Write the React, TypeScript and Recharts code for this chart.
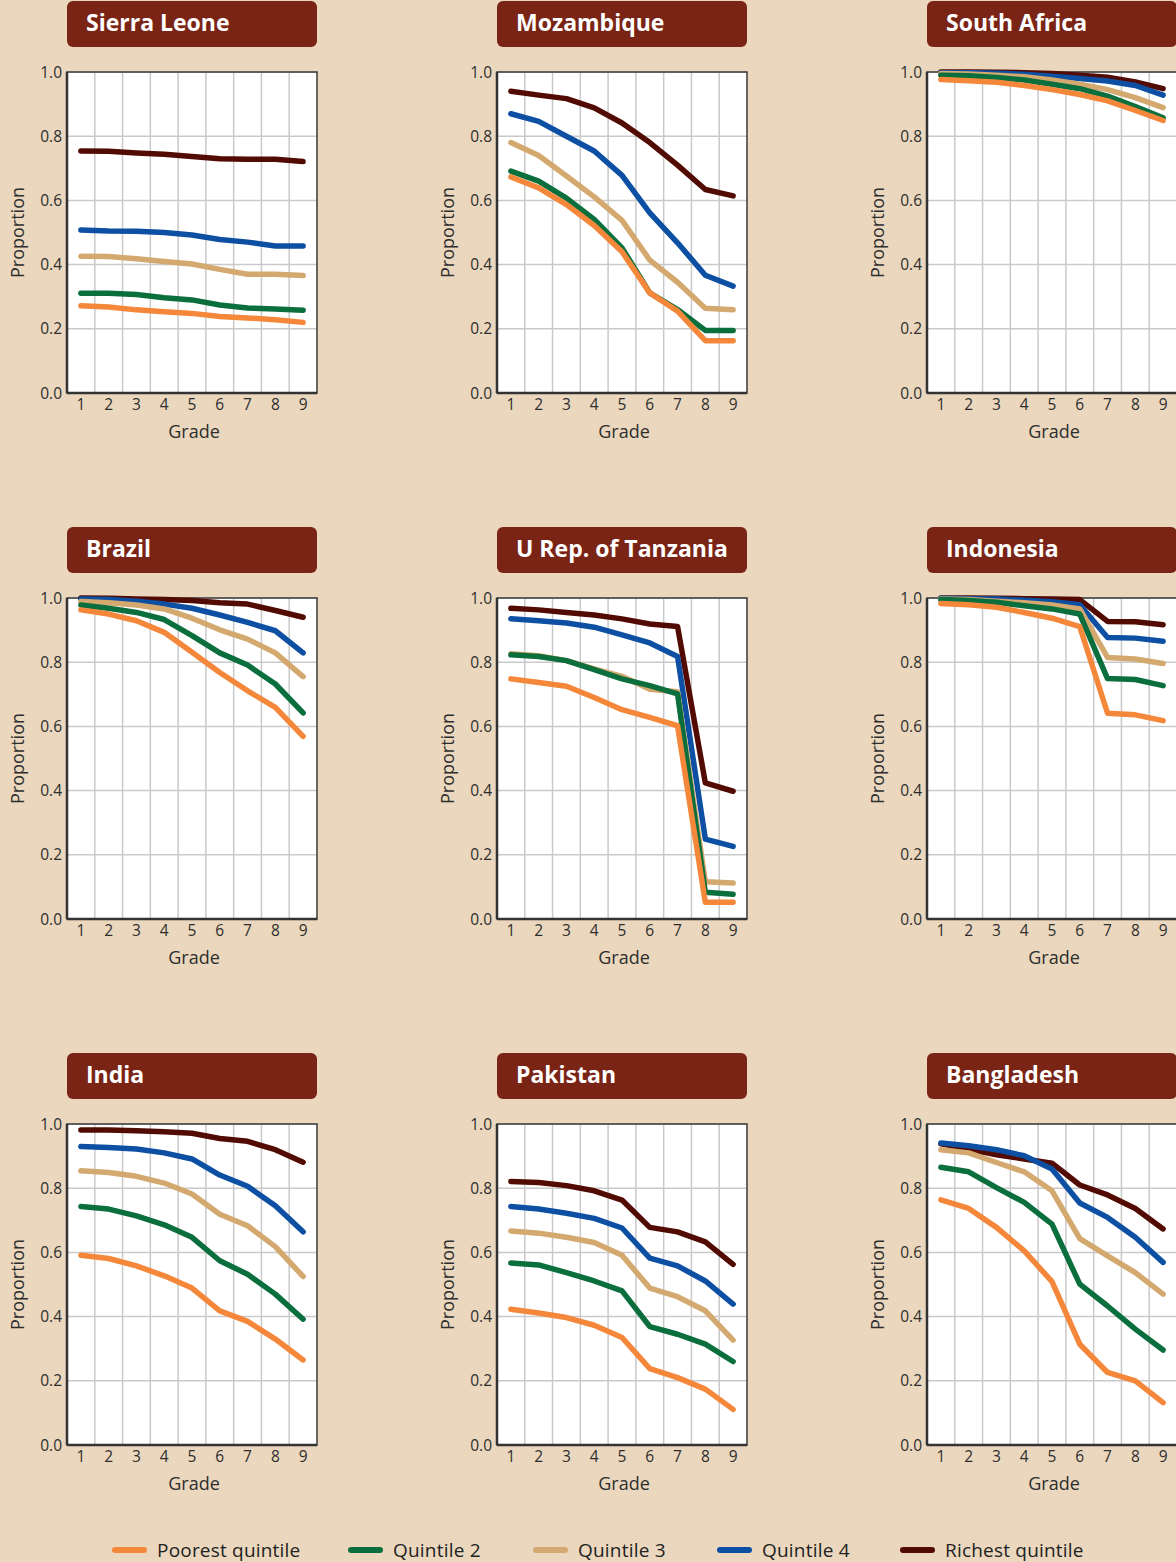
import React from 'react';
import { LineChart, Line, XAxis, YAxis, CartesianGrid, ReferenceArea } from 'recharts';

// grades on the x axis
const GRADES = [1, 2, 3, 4, 5, 6, 7, 8, 9];
const Y_TICKS = [0, 0.2, 0.4, 0.6, 0.8, 1.0];

const SERIES = [
  { key: 'poorest', name: 'Poorest quintile', color: '#f4873a' },
  { key: 'q2', name: 'Quintile 2', color: '#0b6e3d' },
  { key: 'q3', name: 'Quintile 3', color: '#d3a970' },
  { key: 'q4', name: 'Quintile 4', color: '#0c4fa3' },
  { key: 'richest', name: 'Richest quintile', color: '#520b02' },
];

// proportion still in school, by grade
const sierraLeone = {
  poorest: [0.272, 0.268, 0.259, 0.253, 0.248, 0.238, 0.234, 0.228, 0.220],
  q2: [0.311, 0.311, 0.307, 0.297, 0.290, 0.274, 0.265, 0.262, 0.258],
  q3: [0.426, 0.425, 0.418, 0.410, 0.402, 0.385, 0.370, 0.370, 0.366],
  q4: [0.508, 0.505, 0.504, 0.500, 0.492, 0.478, 0.470, 0.458, 0.458],
  richest: [0.754, 0.753, 0.748, 0.744, 0.737, 0.730, 0.728, 0.728, 0.721],
};
const mozambique = {
  poorest: [0.673, 0.639, 0.587, 0.522, 0.440, 0.312, 0.255, 0.163, 0.163],
  q2: [0.691, 0.660, 0.607, 0.541, 0.452, 0.312, 0.260, 0.195, 0.195],
  q3: [0.780, 0.740, 0.676, 0.611, 0.538, 0.414, 0.345, 0.264, 0.259],
  q4: [0.870, 0.846, 0.800, 0.754, 0.678, 0.561, 0.468, 0.367, 0.333],
  richest: [0.940, 0.928, 0.917, 0.888, 0.841, 0.780, 0.710, 0.634, 0.614],
};
const southAfrica = {
  poorest: [0.977, 0.973, 0.968, 0.958, 0.945, 0.930, 0.910, 0.880, 0.849],
  q2: [0.990, 0.988, 0.983, 0.975, 0.962, 0.948, 0.925, 0.892, 0.857],
  q3: [0.995, 0.994, 0.990, 0.985, 0.975, 0.962, 0.945, 0.920, 0.889],
  q4: [0.998, 0.998, 0.996, 0.993, 0.987, 0.980, 0.972, 0.958, 0.928],
  richest: [1.0, 1.0, 0.999, 0.998, 0.995, 0.990, 0.984, 0.969, 0.948],
};
const brazil = {
  poorest: [0.963, 0.950, 0.929, 0.893, 0.831, 0.768, 0.711, 0.659, 0.569],
  q2: [0.978, 0.968, 0.955, 0.933, 0.883, 0.829, 0.791, 0.732, 0.642],
  q3: [0.989, 0.985, 0.978, 0.966, 0.937, 0.901, 0.872, 0.829, 0.755],
  q4: [0.997, 0.995, 0.990, 0.981, 0.968, 0.947, 0.924, 0.898, 0.829],
  richest: [1.0, 0.999, 0.997, 0.995, 0.992, 0.985, 0.981, 0.961, 0.940],
};
const tanzania = {
  poorest: [0.748, 0.737, 0.725, 0.690, 0.652, 0.628, 0.602, 0.052, 0.052],
  q2: [0.823, 0.818, 0.805, 0.777, 0.748, 0.727, 0.701, 0.083, 0.077],
  q3: [0.826, 0.820, 0.805, 0.779, 0.756, 0.716, 0.708, 0.116, 0.112],
  q4: [0.935, 0.929, 0.922, 0.909, 0.885, 0.860, 0.818, 0.249, 0.226],
  richest: [0.968, 0.963, 0.955, 0.947, 0.935, 0.919, 0.911, 0.424, 0.398],
};
const indonesia = {
  poorest: [0.983, 0.979, 0.971, 0.955, 0.937, 0.911, 0.641, 0.636, 0.618],
  q2: [0.995, 0.992, 0.987, 0.976, 0.966, 0.950, 0.749, 0.746, 0.727],
  q3: [0.997, 0.995, 0.990, 0.985, 0.978, 0.966, 0.815, 0.810, 0.796],
  q4: [0.999, 0.998, 0.997, 0.993, 0.988, 0.979, 0.877, 0.875, 0.865],
  richest: [1.0, 1.0, 0.999, 0.998, 0.997, 0.995, 0.927, 0.926, 0.917],
};
const india = {
  poorest: [0.591, 0.581, 0.558, 0.527, 0.489, 0.418, 0.385, 0.330, 0.265],
  q2: [0.743, 0.735, 0.714, 0.686, 0.647, 0.574, 0.532, 0.470, 0.392],
  q3: [0.854, 0.849, 0.837, 0.816, 0.782, 0.719, 0.683, 0.618, 0.525],
  q4: [0.930, 0.927, 0.922, 0.910, 0.891, 0.841, 0.806, 0.745, 0.664],
  richest: [0.981, 0.981, 0.979, 0.976, 0.971, 0.955, 0.946, 0.920, 0.881],
};
const pakistan = {
  poorest: [0.423, 0.411, 0.397, 0.373, 0.335, 0.238, 0.210, 0.174, 0.111],
  q2: [0.567, 0.561, 0.537, 0.511, 0.480, 0.369, 0.345, 0.314, 0.260],
  q3: [0.667, 0.660, 0.647, 0.631, 0.591, 0.489, 0.462, 0.418, 0.327],
  q4: [0.743, 0.735, 0.722, 0.706, 0.676, 0.582, 0.558, 0.511, 0.439],
  richest: [0.821, 0.818, 0.808, 0.792, 0.763, 0.678, 0.664, 0.633, 0.563],
};
const bangladesh = {
  poorest: [0.764, 0.737, 0.678, 0.605, 0.509, 0.314, 0.226, 0.200, 0.132],
  q2: [0.865, 0.851, 0.802, 0.756, 0.688, 0.501, 0.433, 0.361, 0.296],
  q3: [0.920, 0.910, 0.880, 0.851, 0.792, 0.643, 0.589, 0.537, 0.470],
  q4: [0.941, 0.932, 0.920, 0.901, 0.860, 0.754, 0.709, 0.647, 0.569],
  richest: [0.938, 0.922, 0.904, 0.891, 0.878, 0.810, 0.779, 0.737, 0.673],
};

const COUNTRIES = [
  { name: 'Sierra Leone', values: sierraLeone },
  { name: 'Mozambique', values: mozambique },
  { name: 'South Africa', values: southAfrica },
  { name: 'Brazil', values: brazil },
  { name: 'U Rep. of Tanzania', values: tanzania },
  { name: 'Indonesia', values: indonesia },
  { name: 'India', values: india },
  { name: 'Pakistan', values: pakistan },
  { name: 'Bangladesh', values: bangladesh },
];

const BG = '#ead7bd';
const TITLE_BG = '#7a2416';
const TEXT = '#2e2e2e';
const COL_X = [0, 430, 860];
const ROW_Y = [0, 526, 1052];
const LEGEND_X = [112, 348, 533, 717, 900];

const toRows = (values: any) =>
  GRADES.map((g, i) => {
    const row: any = { grade: g };
    SERIES.forEach((s) => (row[s.key] = values[s.key][i]));
    return row;
  });

const YLabel = (props: any) => {
  const vb = props.viewBox || { x: 0, y: 72, width: 67, height: 321 };
  const x = vb.x + 17;
  const y = vb.y + vb.height / 2;
  return (
    <text x={x} y={y} transform={`rotate(-90, ${x}, ${y})`} textAnchor="middle" dominantBaseline="central" fill={TEXT} fontSize={18}>
      Proportion
    </text>
  );
};

const XLabel = (props: any) => {
  const vb = props.viewBox || { x: 67, y: 393, width: 250, height: 57 };
  return (
    <text x={vb.x + vb.width / 2 + 2} y={vb.y + 38} textAnchor="middle" dominantBaseline="central" fill={TEXT} fontSize={18}>
      Grade
    </text>
  );
};

const Panel = ({ name, values, left, top }: any) => {
  const data = toRows(values);
  return (
    <div style={{ position: 'absolute', left, top, width: 330, height: 450 }}>
      <div
        style={{
          position: 'absolute', left: 67, top: 1, width: 250, height: 46, background: TITLE_BG,
          borderRadius: 6, color: '#fff', fontWeight: 700, fontSize: 23, lineHeight: '43px', paddingLeft: 19,
          boxSizing: 'border-box', whiteSpace: 'nowrap',
        }}
      >
        {name}
      </div>
      <LineChart width={330} height={450} data={data} margin={{ top: 72, right: 13, bottom: 0, left: 0 }}>
        <CartesianGrid
          stroke="#c9c9c9"
          strokeWidth={1.5}
          fill="#ffffff"
          fillOpacity={1}
          verticalCoordinatesGenerator={({ offset }: any) =>
            GRADES.slice(1).map((g) => {
              const o = offset || { left: 67, width: 250 };
              return o.left + (o.width * (g - 1)) / GRADES.length;
            })
          }
        />
        <XAxis
          dataKey="grade"
          type="number"
          domain={[0.5, 9.5]}
          ticks={GRADES}
          height={57}
          tickLine={false}
          tickSize={0}
          tickMargin={6}
          axisLine={{ stroke: '#333', strokeWidth: 2.5 }}
          tick={{ fill: TEXT, fontSize: 15.5 }}
          label={<XLabel />}
        />
        <YAxis
          type="number"
          domain={[0, 1]}
          ticks={Y_TICKS}
          width={67}
          tickLine={false}
          tickSize={0}
          tickMargin={5}
          axisLine={{ stroke: '#333', strokeWidth: 2.5 }}
          tick={{ fill: TEXT, fontSize: 15.5 }}
          tickFormatter={(v: number) => v.toFixed(1)}
          label={<YLabel />}
        />
        <ReferenceArea x1={0.5} x2={9.5} y1={0} y2={1} fill="none" stroke="#3a3a3a" strokeWidth={1.5} ifOverflow="visible" />
        {[...SERIES].reverse().map((s) => (
          <Line
            key={s.key}
            dataKey={s.key}
            name={s.name}
            type="linear"
            stroke={s.color}
            strokeWidth={5.5}
            strokeLinecap="round"
            strokeLinejoin="round"
            dot={false}
            activeDot={false}
            isAnimationActive={false}
          />
        ))}
      </LineChart>
    </div>
  );
};

export default function App() {
  return (
    <div
      style={{
        position: 'absolute', left: 0, top: 0, width: 1176, height: 1562, overflow: 'hidden',
        background: BG, fontFamily: '"Open Sans", "Noto Sans", sans-serif', color: TEXT,
      }}
    >
      {COUNTRIES.map((c, i) => (
        <Panel key={c.name} name={c.name} values={c.values} left={COL_X[i % 3]} top={ROW_Y[Math.floor(i / 3)]} />
      ))}
      {SERIES.map((s, i) => (
        <div key={s.key} style={{ position: 'absolute', left: LEGEND_X[i], top: 1538, height: 24, display: 'flex', alignItems: 'center' }}>
          <div style={{ width: 35, height: 6, borderRadius: 3, background: s.color, marginRight: 10 }} />
          <span style={{ fontSize: 19, letterSpacing: 0.2, color: '#222', whiteSpace: 'nowrap' }}>{s.name}</span>
        </div>
      ))}
    </div>
  );
}
